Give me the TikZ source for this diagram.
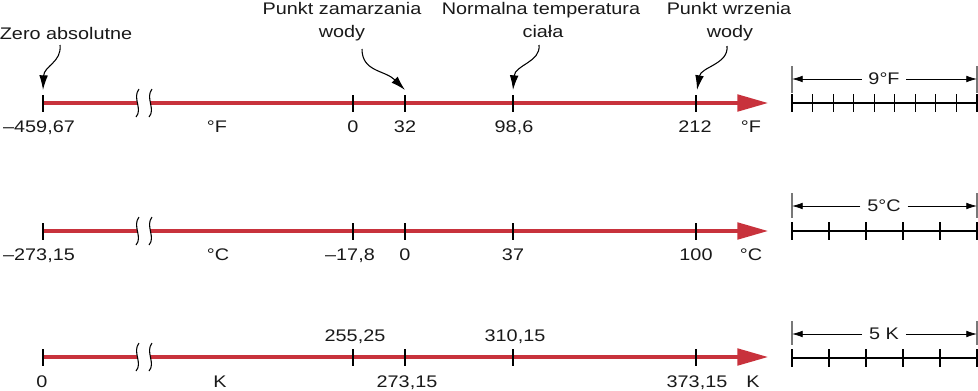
\documentclass[tikz,border=0pt]{standalone}
\usepackage{fontspec}
\setmainfont[FakeStretch=1.18]{Liberation Sans}
\usetikzlibrary{arrows.meta}
\definecolor{axisred}{RGB}{200,50,60}
\definecolor{bargray}{RGB}{120,120,120}
\begin{document}
\begin{tikzpicture}[x=0.75pt,y=-0.75pt,
  every node/.style={font=\fontsize{12.6}{15}\selectfont, inner sep=0pt, text=black!90},
  lbl/.style={anchor=base},
  axisline/.style={draw=axisred, line width=2.3pt},
  axisarrow/.style={draw=axisred, line width=2.3pt, -{Triangle[length=23pt,width=12.5pt]}},
  tickmark/.style={draw=black, line width=0.8pt},
  squiggle/.style={draw=black, line width=0.8pt},
  callout/.style={draw=black, line width=0.8pt, -{Latex[length=11pt,width=6.5pt]}},
  dimarrow/.style={draw=black, line width=0.6pt, -{Latex[length=8pt,width=5pt]}},
  dimbar/.style={draw=bargray, line width=0.8pt},
  ruler/.style={draw=black, line width=0.8pt},
]
\useasboundingbox (0,0) rectangle (978,390);

% ---------- axes ----------
\foreach \nm/\y in {F/103, C/231, K/357}{
  \coordinate (\nm s) at (43,\y);
  \coordinate (\nm bl) at (137,\y);
  \coordinate (\nm br) at (150,\y);
  \coordinate (\nm e) at (768,\y);
  \draw[axisline] (\nm s) -- (\nm bl);
  \draw[axisarrow] (\nm br) -- (\nm e);
  \foreach \x in {43,353,405,513,696}{
    \draw[tickmark] (\x,\y-8) -- (\x,\y+9);
  }
  \draw[squiggle] (139,\y-14) .. controls (132,\y-5) and (143,\y+6) .. (136,\y+14);
  \draw[squiggle] (152,\y-14) .. controls (145,\y-5) and (156,\y+6) .. (149,\y+14);
}

% ---------- Fahrenheit labels ----------
\node[lbl] (f1) at (39,132) {–459,67};
\node[lbl] (f2) at (217,132) {°F};
\node[lbl] (f3) at (353,132) {0};
\node[lbl] (f4) at (405,132) {32};
\node[lbl] (f5) at (514,132) {98,6};
\node[lbl] (f6) at (695,132) {212};
\node[lbl] (f7) at (751,132) {°F};

% ---------- Celsius labels ----------
\node[lbl] (c1) at (39,260) {–273,15};
\node[lbl] (c2) at (218,260) {°C};
\node[lbl] (c3) at (350,260) {–17,8};
\node[lbl] (c4) at (405,260) {0};
\node[lbl] (c5) at (513,260) {37};
\node[lbl] (c6) at (696,260) {100};
\node[lbl] (c7) at (751,260) {°C};

% ---------- Kelvin labels ----------
\node[lbl] (k1) at (42,387) {0};
\node[lbl] (k2) at (220,387) {K};
\node[lbl] (k3) at (355,341) {255,25};
\node[lbl] (k4) at (407,387) {273,15};
\node[lbl] (k5) at (515,341) {310,15};
\node[lbl] (k6) at (697,387) {373,15};
\node[lbl] (k7) at (753,387) {K};

% ---------- top annotations ----------
\node[lbl] (zero) at (66,39) {Zero absolutne};
\node[lbl] (zam1) at (342,14) {Punkt zamarzania};
\node[lbl] (zam2) at (342,37) {wody};
\node[lbl] (nor1) at (541,14) {Normalna temperatura};
\node[lbl] (nor2) at (543,37) {ciała};
\node[lbl] (wrz1) at (729,14) {Punkt wrzenia};
\node[lbl] (wrz2) at (730,37) {wody};

\coordinate (zeroS) at (60,45);  \coordinate (zeroT) at (43,90);
\coordinate (zamS) at (362,49);  \coordinate (zamT) at (405,90);
\coordinate (norS) at (539,45);  \coordinate (norT) at (513,90);
\coordinate (wrzS) at (727,46);  \coordinate (wrzT) at (697,90);

\draw[callout] (zeroS) .. controls (62,62) and (44,66) .. (zeroT);
\draw[callout] (zamS) .. controls (362,72) and (385,70) .. (zamT);
\draw[callout] (norS) .. controls (541,62) and (515,65) .. (norT);
\draw[callout] (wrzS) .. controls (729,64) and (701,67) .. (wrzT);

% ---------- scale keys ----------
\foreach \nm/\ya/\yb/\yc/\yr/\n/\txt in {
    sF/66/93/79/103/9/9°F,
    sC/193/218/206/231/5/5°C,
    sK/321/345/334/358/5/5 K}{
  \coordinate (\nm L) at (792,\yc);
  \coordinate (\nm R) at (977,\yc);
  \draw[dimbar] (792,\ya) -- (792,\yb);
  \draw[dimbar] (977,\ya) -- (977,\yb);
  \node[inner xsep=5pt] (\nm t) at (884,\yc) {\txt};
  \draw[dimarrow] (\nm t.west) -- (\nm L);
  \draw[dimarrow] (\nm t.east) -- (\nm R);
  \draw[ruler] (792,\yr) -- (977,\yr);
  \foreach \i in {0,...,\n}{
    \draw[ruler] ({792+\i*185/\n},\yr-9) -- ({792+\i*185/\n},\yr+9);
  }
}
\end{tikzpicture}
\end{document}
